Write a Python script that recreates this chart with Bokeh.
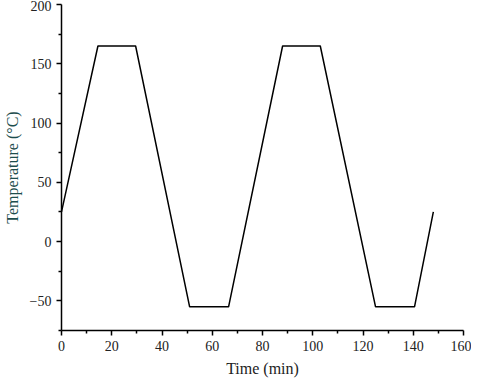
from bokeh.plotting import figure
from bokeh.models import Range1d, FixedTicker
from bokeh.embed import file_html
from bokeh.resources import INLINE

time_min = [0, 14.5, 29.5, 51, 66.5, 88, 103, 125, 140.5, 148]
temp_c = [25, 165, 165, -55, -55, 165, 165, -55, -55, 25]

x_ticks = [0, 20, 40, 60, 80, 100, 120, 140, 160]
x_minor = [10, 30, 50, 70, 90, 110, 130, 150]
y_ticks = [-50, 0, 50, 100, 150, 200]
y_minor = [-75, -25, 25, 75, 125, 175]

p = figure(frame_width=402, frame_height=326, output_backend="svg", toolbar_location=None,
           x_range=Range1d(0, 160), y_range=Range1d(-75, 200),
           min_border_left=58, min_border_right=8, min_border_top=4, min_border_bottom=40)
p.outline_line_color = None
p.xgrid.visible = False
p.ygrid.visible = False
p.background_fill_color = "white"
p.border_fill_color = "white"

p.line(time_min, temp_c, line_color="black", line_width=1.5)

font = "Liberation Serif"
for ax in (p.xaxis[0], p.yaxis[0]):
    ax.axis_line_color = "black"
    ax.axis_line_width = 1.5
    ax.major_tick_line_color = "black"
    ax.minor_tick_line_color = "black"
    ax.major_tick_line_width = 1.5
    ax.minor_tick_line_width = 1.5
    ax.major_tick_out = 5
    ax.major_tick_in = 0
    ax.minor_tick_out = 3
    ax.minor_tick_in = 0
    ax.major_label_text_font = font
    ax.major_label_text_font_size = "14px"
    ax.major_label_text_color = "#222222"
    ax.axis_label_text_font = font
    ax.axis_label_text_font_size = "16px"
    ax.axis_label_text_font_style = "normal"

p.xaxis[0].ticker = FixedTicker(ticks=x_ticks, minor_ticks=x_minor)
p.yaxis[0].ticker = FixedTicker(ticks=y_ticks, minor_ticks=y_minor)
p.xaxis[0].axis_label = "Time (min)"
p.yaxis[0].axis_label = "Temperature (°C)"
p.xaxis[0].axis_label_text_color = "#222222"
p.yaxis[0].axis_label_text_color = "#1d4d4d"
p.xaxis[0].axis_label_standoff = 6
p.yaxis[0].axis_label_standoff = 6

open("out.html", "w").write(file_html(p, INLINE))
